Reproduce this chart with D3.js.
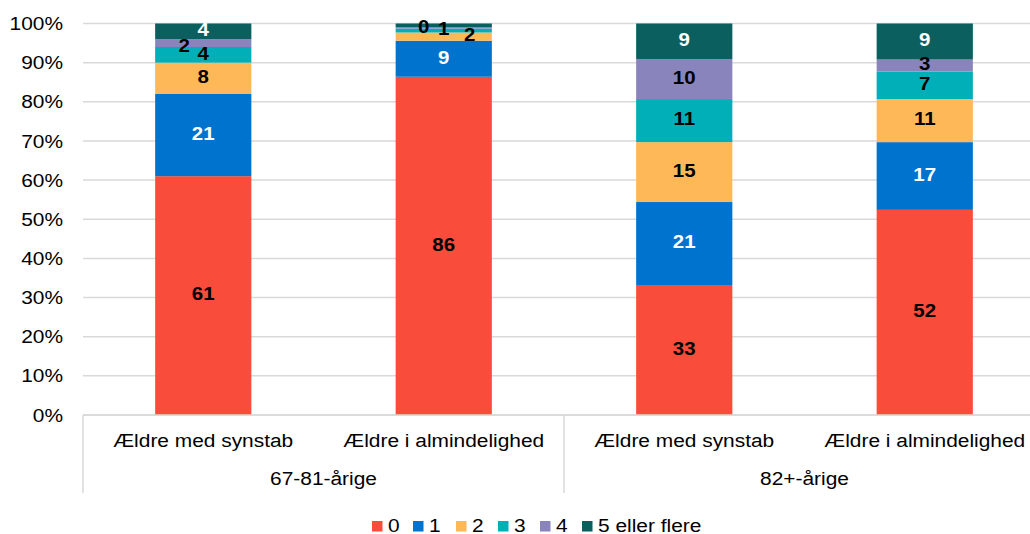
<!DOCTYPE html>
<html>
<head>
<meta charset="utf-8">
<script src="https://cdn.jsdelivr.net/npm/d3@7"></script>
<style>
  html, body { margin: 0; padding: 0; background: #fff; }
  svg { display: block; font-family: "Liberation Sans", Arial, sans-serif; }
</style>
</head>
<body>
<svg id="chart" width="1030" height="534"></svg>
<script>
// Bars, left to right
const barLabels = ["Ældre med synstab", "Ældre i almindelighed", "Ældre med synstab", "Ældre i almindelighed"];
const groupLabels = ["67-81-årige", "82+-årige"];
const seriesNames = ["0", "1", "2", "3", "4", "5 eller flere"];
const seriesColors = ["#F94C3B", "#0073CF", "#FFB858", "#00AFB8", "#8A84BC", "#0B5F5F"];
const labelColors = ["#000", "#fff", "#000", "#000", "#000", "#fff"];

// Percent per series, one value per bar
const s0 = [61, 86.4, 33.2, 52.4];
const s1 = [21, 9.2, 21.2, 17.3];
const s2 = [8, 2.1, 15.3, 11.0];
const s3 = [4, 1.0, 11.0, 7.0];
const s4 = [2, 0.4, 10.2, 3.1];
const s5 = [4, 0.9, 9.1, 9.2];
const yTicks = [0, 10, 20, 30, 40, 50, 60, 70, 80, 90, 100];

const seriesValues = [s0, s1, s2, s3, s4, s5];
const rows = barLabels.map((b, i) => {
  const r = { key: i };
  seriesNames.forEach((s, j) => r[s] = seriesValues[j][i]);
  return r;
});

const svg = d3.select("#chart");
const plotLeft = 83, plotRight = 1045, plotTop = 23.5, plotBottom = 415;
const fontSize = 19, textStretch = 1.1;

const x = d3.scaleBand().domain(d3.range(barLabels.length)).range([plotLeft, plotRight])
  .paddingInner(0.6).paddingOuter(0.3);
const y = d3.scaleLinear().domain([0, 100]).range([plotBottom, plotTop]);

// gridlines
svg.append("g").selectAll("line").data(yTicks).join("line")
  .attr("x1", plotLeft).attr("x2", plotRight)
  .attr("y1", d => y(d)).attr("y2", d => y(d))
  .attr("stroke", "#D9D9D9").attr("stroke-width", 1.5);

// y axis labels
const yAxis = svg.append("g").attr("transform", `translate(${plotLeft - 20},0)`)
  .call(d3.axisLeft(y).tickValues(yTicks).tickFormat(d => d + "%").tickSize(0).tickPadding(0));
yAxis.select(".domain").remove();
yAxis.selectAll("text").attr("font-size", fontSize).attr("fill", "#000")
  .attr("font-family", "'Liberation Sans', Arial, sans-serif");

// stacked bars
const stack = d3.stack().keys(seriesNames)(rows);
const layers = svg.append("g").selectAll("g").data(stack).join("g")
  .attr("fill", (d, i) => seriesColors[i]);
layers.selectAll("rect").data(d => d).join("rect")
  .attr("x", d => x(d.data.key))
  .attr("width", x.bandwidth())
  .attr("y", d => y(d[1]))
  .attr("height", d => y(d[0]) - y(d[1]));

// x axis: bar labels, group labels and dividers
const xAxis = svg.append("g");
xAxis.append("line").attr("x1", plotLeft).attr("x2", plotRight).attr("y1", plotBottom).attr("y2", plotBottom)
  .attr("stroke", "#D9D9D9").attr("stroke-width", 1.5);
xAxis.selectAll("text.bar").data(barLabels).join("text").attr("class", "bar")
  .attr("x", (d, i) => x(i) + x.bandwidth() / 2).attr("y", 447.5)
  .attr("text-anchor", "middle").attr("font-size", fontSize).text(d => d);
const groupStep = (plotRight - plotLeft) / groupLabels.length;
xAxis.selectAll("text.grp").data(groupLabels).join("text").attr("class", "grp")
  .attr("x", (d, i) => plotLeft + groupStep * (i + 0.5)).attr("y", 485.5)
  .attr("text-anchor", "middle").attr("font-size", fontSize).text(d => d);
xAxis.selectAll("line.div").data(d3.range(groupLabels.length + 1)).join("line").attr("class", "div")
  .attr("x1", i => plotLeft + groupStep * i).attr("x2", i => plotLeft + groupStep * i)
  .attr("y1", plotBottom).attr("y2", 493)
  .attr("stroke", "#D9D9D9").attr("stroke-width", 1.5);

// value labels; a few small segments get nudged so the numbers do not overlap
const nudge = { "0-4": [-19, 4], "1-4": [-20, 0], "1-2": [26, 0] };
const hidden = { "1-5": true };
const labels = svg.append("g");
stack.forEach((layer, j) => {
  layer.forEach(d => {
    const i = d.data.key;
    const id = i + "-" + j;
    if (hidden[id]) return;
    const n = nudge[id] || [0, 0];
    labels.append("text")
      .attr("x", x(i) + x.bandwidth() / 2 + n[0])
      .attr("y", (y(d[0]) + y(d[1])) / 2 + n[1])
      .attr("dy", "0.26em")
      .attr("text-anchor", "middle")
      .attr("font-size", 18.6).attr("font-weight", "bold")
      .attr("fill", labelColors[j])
      .text(d3.format(".0f")(d[1] - d[0]));
  });
});

// legend
const legendX = [372, 413, 456, 498, 540, 582];
const legend = svg.append("g").selectAll("g").data(seriesNames).join("g")
  .attr("transform", (d, i) => `translate(${legendX[i]},521)`);
legend.append("rect").attr("width", 10.5).attr("height", 10.5).attr("fill", (d, i) => seriesColors[i]);
legend.append("text").attr("x", 16).attr("y", 10.5).attr("font-size", fontSize).text(d => d);

// widen glyphs slightly around each text's own anchor point
svg.selectAll("text").each(function () {
  const ax = +d3.select(this).attr("x") || 0;
  d3.select(this).attr("transform", `translate(${ax},0) scale(${textStretch},1) translate(${-ax},0)`);
});
</script>
</body>
</html>
